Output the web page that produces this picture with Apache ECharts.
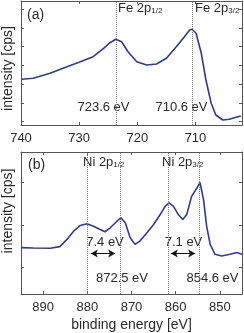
<!DOCTYPE html>
<html><head><meta charset="utf-8">
<script src="https://cdn.jsdelivr.net/npm/echarts@6/dist/echarts.min.js"></script>
<style>html,body{margin:0;padding:0;background:#fff}#c{width:244px;height:333px}</style>
</head><body><div id="c"></div>
<script>
// Panel (a): Fe 2p spectrum (binding energy eV, intensity arb.)
var feEnergy = [739.9,737.9,735,732.1,729.8,727.6,725.8,724.7,723.7,722.7,721.6,720.1,718.4,716.7,715,713.3,711.9,711,710.6,709.9,709,708.2,707.3,706.5,705.3,704.2,703,702.2];
var feIntensity = [45.7,46.7,51.7,58.3,63.3,68.3,76.7,82.3,85.7,83.3,73.3,63.3,60,61,66.7,78.3,88.3,95,95.7,91.7,71.7,45,21.7,10,5,5.7,7.7,9];
// Panel (b): Ni 2p spectrum
var niEnergy = [895,892.2,888.4,886.2,884.6,883.1,881.6,880.1,878.6,877.1,876,874.8,873.3,872.4,871.4,870.3,869.2,868.1,866.5,865,863.5,862.4,861.5,860.5,859.4,858.4,857.5,856.4,855.2,854.5,853.7,853,852.2,851.1,849.6,847.7,846.2,845];
var niIntensity = [46.7,46.3,46,47.7,55,63.3,69,70.7,68.3,65,62.7,66.7,73.3,76.7,71.7,56.7,50,53.3,61.7,70,80,88.3,91.7,88.3,80,75,80,98.3,106.7,112.3,95,68.3,50,40,38.3,40,41.7,40];
var feLines = [723.6, 710.6];
var niLines = [880, 872.5, 861.7, 854.6];
var niArrows = [[879.2, 873.7], [861.1, 855.6]];
var arrowLevel = 40.7;
var feTicks = [740, 730, 720, 710];
var niTicks = [890, 880, 870, 860, 850];
var feYTicks = [3.5, 22.2, 40.9, 59.6, 78.3, 97, 115.7];
var niYTicks = [26.7, 69.3, 112.3];

var FONT = 'Liberation Sans, Arial, sans-serif';
var TXT = '#2a2a2a';
var AX = '#555';
var BLUE = '#2d3a9f';

function pair(d1, d2){ return d1.map(function(v,i){return [v, d2[i]];}); }

function xAx(grid, min, max, ticks, pos, labels, name){
  return {type:'value', gridIndex:grid, position:pos, inverse:true, min:min, max:max,
    axisLine:{show:true, onZero:false, lineStyle:{color:AX, width:1}},
    axisTick:{show:true, inside:true, length:3, customValues:ticks, lineStyle:{color:AX}},
    axisLabel:{show:labels, customValues:ticks, color:TXT, fontSize:13, fontFamily:FONT, margin:7},
    splitLine:{show:false},
    name: name || '', nameLocation:'middle', nameGap:24,
    nameTextStyle:{color:TXT, fontSize:14, fontFamily:FONT}};
}
function yAx(grid, max, ticks, pos){
  return {type:'value', gridIndex:grid, position:pos, min:0, max:max,
    axisLine:{show:true, onZero:false, lineStyle:{color:AX, width:1}},
    axisTick:{show:true, inside:true, length:3, customValues:ticks, lineStyle:{color:AX}},
    axisLabel:{show:false}, splitLine:{show:false}};
}
function vlines(vals){
  return {silent:true, symbol:'none', animation:false,
    lineStyle:{type:'dotted', color:'#777', width:1},
    label:{show:false},
    data: vals.map(function(v){return {xAxis:v};})};
}
function txt(x, y, t, opts){
  var o = {type:'text', x:x, y:y, style:Object.assign({text:t, fill:TXT, font:'13px '+FONT, textAlign:'left', textVerticalAlign:'middle'}, opts||{})};
  return o;
}
function richLabel(x, y, main, sub){
  return {type:'text', x:x, y:y, style:{
    text:'{m|'+main+'}{s|'+sub+'}', textVerticalAlign:'middle',
    rich:{m:{fontSize:13, fontFamily:FONT, fill:TXT, color:TXT},
          s:{fontSize:8, fontFamily:FONT, fill:TXT, color:TXT, verticalAlign:'bottom', padding:[5,0,0,0]}}}};
}

var chart = echarts.init(document.getElementById('c'), null, {renderer:'canvas'});
chart.setOption({
  animation:false,
  backgroundColor:'#fff',
  grid:[
    {left:21, right:2, top:1, height:124, show:false},
    {left:21, right:2, top:152, height:143, show:false}
  ],
  xAxis:[
    xAx(0, 702, 740, feTicks, 'bottom', true),
    xAx(0, 702, 740, feTicks, 'top', false),
    xAx(1, 845, 895, niTicks, 'bottom', true, 'binding energy [eV]'),
    xAx(1, 845, 895, niTicks, 'top', false)
  ],
  yAxis:[
    yAx(0, 124, feYTicks, 'left'),
    yAx(0, 124, feYTicks, 'right'),
    yAx(1, 143, niYTicks, 'left'),
    yAx(1, 143, niYTicks, 'right')
  ],
  series:[
    {type:'line', xAxisIndex:0, yAxisIndex:0, data:pair(feEnergy, feIntensity), showSymbol:false,
     lineStyle:{color:BLUE, width:1.6}, markLine:vlines(feLines), z:3},
    {type:'line', xAxisIndex:2, yAxisIndex:2, data:pair(niEnergy, niIntensity), showSymbol:false,
     lineStyle:{color:BLUE, width:1.6}, markLine:vlines(niLines), z:3},
    {type:'line', xAxisIndex:2, yAxisIndex:2, data:[], showSymbol:false,
     markLine:{silent:true, animation:false, symbol:['arrow','arrow'], symbolSize:[6,7],
       lineStyle:{type:'solid', color:'#111', width:1}, label:{show:false},
       data: niArrows.map(function(a){return [{coord:[a[0], arrowLevel]}, {coord:[a[1], arrowLevel]}];})}}
  ],
  graphic:[
    txt(27, 15, '(a)', {font:'14px '+FONT}),
    txt(28, 165, '(b)', {font:'14px '+FONT}),
    richLabel(118, 8, 'Fe 2p', '1/2'),
    richLabel(195, 8, 'Fe 2p', '3/2'),
    txt(103.5, 107, '723.6 eV', {textAlign:'center'}),
    txt(181.5, 107, '710.6 eV', {textAlign:'center'}),
    richLabel(83, 162, 'Ni 2p', '1/2'),
    richLabel(162, 162, 'Ni 2p', '3/2'),
    txt(105, 242, '7.4 eV', {textAlign:'center'}),
    txt(183.5, 242, '7.1 eV', {textAlign:'center'}),
    txt(122, 278, '872.5 eV', {textAlign:'center'}),
    txt(212.5, 278, '854.6 eV', {textAlign:'center'}),
    {type:'text', x:8, y:68.5, rotation:Math.PI/2, style:{text:'intensity [cps]', fill:TXT, font:'14px '+FONT, textAlign:'center', textVerticalAlign:'middle'}},
    {type:'text', x:8, y:211, rotation:Math.PI/2, style:{text:'intensity [cps]', fill:TXT, font:'14px '+FONT, textAlign:'center', textVerticalAlign:'middle'}}
  ]
});
</script></body></html>
